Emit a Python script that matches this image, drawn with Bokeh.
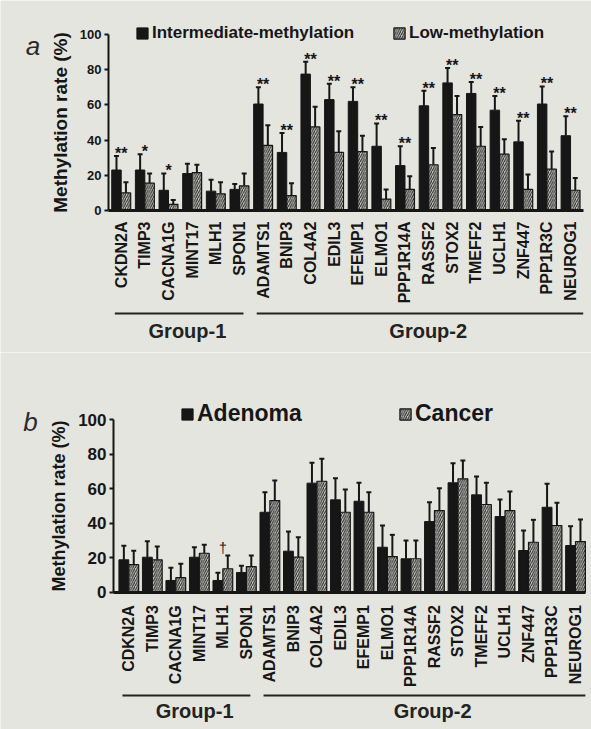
import numpy as np
from bokeh.plotting import figure
from bokeh.models import (Range1d, LinearAxis, FixedTicker, ColumnDataSource,
                          Whisker, TeeHead, Legend, LegendItem)
from bokeh.layouts import column
from bokeh.core.properties import value
from bokeh.embed import file_html
from bokeh.resources import INLINE

# ---------------- data ----------------
genes_a = ["CKDN2A", "TIMP3", "CACNA1G", "MINT17", "MLH1", "SPON1",
           "ADAMTS1", "BNIP3", "COL4A2", "EDIL3", "EFEMP1", "ELMO1",
           "PPP1R14A", "RASSF2", "STOX2", "TMEFF2", "UCLH1", "ZNF447",
           "PPP1R3C", "NEUROG1"]
genes_b = ["CDKN2A", "TIMP3", "CACNA1G", "MINT17", "MLH1", "SPON1",
           "ADAMTS1", "BNIP3", "COL4A2", "EDIL3", "EFEMP1", "ELMO1",
           "PPP1R14A", "RASSF2", "STOX2", "TMEFF2", "UCLH1", "ZNF447",
           "PPP1R3C", "NEUROG1"]
group_names = ["Group-1", "Group-2"]
group_sizes = [6, 14]

# panel a: intermediate- vs low-methylation
inter = [23, 23, 11.5, 21, 11, 12, 60.5, 33, 77.5, 63, 62, 36.5, 25.5, 59.5,
         72.5, 66.5, 57, 39, 60.5, 42.5]
inter_sd = [8, 9, 9.5, 5.5, 6.5, 3, 9.5, 11, 7, 9, 8, 13, 11, 8.5, 8.5, 6.5,
            8, 12, 10, 11]
low = [10, 15.5, 3.5, 21.5, 9.5, 14, 37, 8.5, 47.5, 33, 33.5, 6.5, 12, 26,
       54.5, 36.5, 32, 12, 23.5, 11.5]
low_sd = [6, 5.5, 2.5, 4.5, 6.5, 7, 11.5, 7, 11.5, 12, 9, 5.5, 7.5, 9.5, 10.5,
          11, 8.5, 8.5, 10, 7]
sig_a = ["**", "*", "*", "", "", "", "**", "**", "**", "**", "**", "**", "**",
         "**", "**", "**", "**", "**", "**", "**"]

# panel b: adenoma vs cancer
aden = [18.8, 20.3, 6.8, 20.3, 6.8, 11.4, 46.4, 23.8, 63.3, 53.6, 52.8, 26.1,
        19.4, 41.0, 63.5, 56.5, 43.9, 24.2, 49.3, 27.1]
aden_sd = [8.2, 9.3, 7.4, 5.8, 4.5, 3.9, 11.6, 11.4, 11.8, 12.6, 10.7, 12.6,
           10.6, 11.2, 11.4, 10.7, 9.9, 11.6, 13.6, 11.2]
canc = [16.0, 18.8, 8.4, 22.6, 13.6, 14.9, 53.2, 20.3, 64.4, 46.4, 46.4, 20.7,
        19.4, 47.4, 65.8, 50.9, 47.4, 29.0, 38.7, 29.4]
canc_sd = [8.0, 7.7, 8.1, 4.9, 7.7, 6.4, 11.6, 11.6, 13.0, 13.2, 11.6, 12.6,
           10.6, 13.0, 10.6, 12.6, 11.0, 13.0, 13.2, 12.8]
sig_b = ["", "", "", "", "\u2020", "", "", "", "", "", "", "", "", "", "", "",
         "", "", "", ""]

yticks = [0, 20, 40, 60, 80, 100]

FONT_NAME = "Liberation Sans"
FONT = value(FONT_NAME)
BG = "#e5e5df"
INK = "#161616"


def make_panel(letter, genes, s1, s1_sd, s2, s2_sd, marks, names, height,
               xr, yr, axis_x, x_end, bw, tick_size, ylabel_size, ylabel_standoff,
               xlabel_standoff, letter_xy, leg_locs, leg_size, mark_style,
               line_y, text_y):
    n = len(genes)
    p = figure(width=591, height=height, x_range=Range1d(*xr), y_range=Range1d(*yr),
               x_axis_type=None, y_axis_type=None, output_backend="svg",
               toolbar_location=None, min_border=0, background_fill_color=BG,
               border_fill_color=BG, outline_line_color=None)
    idx = np.arange(n)
    x1 = idx - bw / 2
    x2 = idx + bw / 2
    r1 = p.vbar(x=x1, top=s1, width=bw, bottom=0, fill_color=INK, line_color=INK,
                line_width=1)
    r2 = p.vbar(x=x2, top=s2, width=bw, bottom=0, fill_color="#c9c9c4",
                line_color=INK, line_width=1.2, hatch_pattern="/",
                hatch_color="#2a2a2a", hatch_scale=4.5, hatch_weight=1.1)

    for xs, v, sd in ((x1, s1, s1_sd), (x2, s2, s2_sd)):
        v = np.array(v, float)
        sd = np.array(sd, float)
        src = ColumnDataSource(dict(x=xs, lo=v, up=v + sd))
        w = Whisker(base="x", lower="lo", upper="up", source=src, dimension="height",
                    line_color=INK, line_width=2,
                    upper_head=TeeHead(size=5, line_width=2, line_color=INK),
                    lower_head=None)
        p.add_layout(w)

    # significance marks
    top = np.maximum(np.array(s1) + np.array(s1_sd), np.array(s2) + np.array(s2_sd))
    msrc = ColumnDataSource(dict(x=idx, y=top + mark_style["dy"], t=marks))
    p.text(x="x", y="y", text="t", source=msrc, text_font=FONT,
           text_font_style=mark_style["style"], text_font_size=mark_style["size"],
           text_align="center", text_baseline="alphabetic", text_color=INK)

    # axes
    yax = LinearAxis(fixed_location=axis_x, bounds=(0, 100),
                     ticker=FixedTicker(ticks=yticks, minor_ticks=[]),
                     axis_label="Methylation rate (%)",
                     axis_label_text_font=FONT_NAME, axis_label_text_font_style="bold",
                     axis_label_text_font_size=ylabel_size,
                     axis_label_standoff=ylabel_standoff,
                     axis_label_text_color=INK,
                     major_label_text_font=FONT_NAME, major_label_text_font_style="bold",
                     major_label_text_font_size=tick_size, major_label_text_color=INK,
                     major_label_standoff=3, major_tick_in=0, major_tick_out=4,
                     major_tick_line_width=2, axis_line_width=2,
                     axis_line_color=INK, major_tick_line_color=INK,
                     minor_tick_line_color=None)
    p.add_layout(yax, "left")
    xax = LinearAxis(fixed_location=0, bounds=(axis_x, x_end),
                     ticker=FixedTicker(ticks=list(range(n)), minor_ticks=[]),
                     major_label_overrides={i: g for i, g in enumerate(genes)},
                     major_label_orientation=np.pi / 2,
                     major_label_text_font=FONT_NAME, major_label_text_font_style="bold",
                     major_label_text_font_size="16px", major_label_text_color=INK,
                     major_label_standoff=xlabel_standoff,
                     major_tick_line_color=None, minor_tick_line_color=None,
                     axis_line_width=3, axis_line_color=INK)
    p.add_layout(xax, "below")

    # group brackets
    starts = np.cumsum([0] + group_sizes[:-1])
    ends = starts + np.array(group_sizes) - 1
    gx0 = [max(s - 0.27, axis_x) for s in starts]
    gx1 = [e + 0.17 for e in ends]
    gx1[-1] = x_end
    p.segment(x0=gx0, x1=gx1, y0=[line_y] * len(gx0), y1=[line_y] * len(gx0),
              line_width=2, line_color="#222222")
    gtx = [(a + b) / 2 + 0.35 for a, b in zip(gx0, gx1)]
    p.text(x=gtx, y=[text_y] * len(gtx), text=group_names, text_font=FONT,
           text_font_style="bold", text_font_size="20px", text_align="center",
           text_baseline="middle", text_color="#222222")

    # panel letter
    p.text(x=[letter_xy[0]], y=[letter_xy[1]], text=[letter], text_font=FONT,
           text_font_style="italic", text_font_size="26px", text_align="center",
           text_baseline="alphabetic", text_color="#2a2a2a")

    # legends
    for (lx, ly), lab, r in zip(leg_locs, names, (r1, r2)):
        leg = Legend(items=[LegendItem(label=lab, renderers=[r])], location=(lx, ly),
                     orientation="horizontal", padding=0, margin=0,
                     background_fill_alpha=0, border_line_color=None,
                     glyph_width=14, glyph_height=14, label_standoff=3,
                     label_height=14, label_text_font=FONT_NAME,
                     label_text_font_style="bold", label_text_font_size=leg_size,
                     label_text_color=INK)
        p.add_layout(leg)
    return p


# panel a geometry: category i at x 120.7 + 23.65 i px ; y=0 at 210 px, 1.76 px/unit
pa = make_panel(
    "a", genes_a, inter, inter_sd, low, low_sd, sig_a,
    ["Intermediate-methylation", "Low-methylation"], 352,
    xr=(-5.104, 19.886), yr=(-80.68, 119.32), axis_x=-0.537, x_end=19.535,
    bw=0.4, tick_size="13px", ylabel_size="19px", ylabel_standoff=6,
    xlabel_standoff=5, letter_xy=(-3.73, 93.75),
    leg_locs=[(135, 309), (392, 309)], leg_size="17px",
    mark_style=dict(dy=1.5, style="bold", size="16px"),
    line_y=-58.5, text_y=-68.7)

# panel b geometry: category i at x 128.3 + 23.51 i px ; y=0 at 239.7 px, 1.723 px/unit
pb = make_panel(
    "b", genes_b, aden, aden_sd, canc, canc_sd, sig_b,
    ["Adenoma", "Cancer"], 377,
    xr=(-5.457, 19.68), yr=(-79.69, 139.12), axis_x=-0.651, x_end=19.42,
    bw=0.42, tick_size="17px", ylabel_size="18px", ylabel_standoff=6,
    xlabel_standoff=7, letter_xy=(-4.18, 98.7),
    leg_locs=[(180, 302), (398, 302)], leg_size="23px",
    mark_style=dict(dy=4.5, style="normal", size="14px"),
    line_y=-60.0, text_y=-69.2)

layout = column(pa, pb, spacing=0)
open("out.html", "w").write(file_html(layout, INLINE))
